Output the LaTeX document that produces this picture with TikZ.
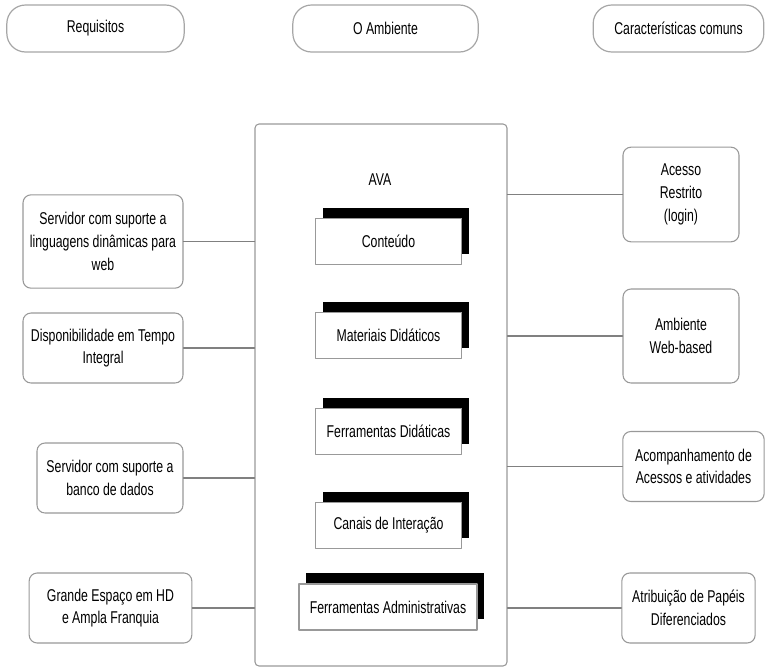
\documentclass[tikz,border=0pt]{standalone}
\usepackage{fontspec}
\setmainfont{Liberation Sans}[FakeStretch=0.72]
\usetikzlibrary{shadows}

\begin{document}
\begin{tikzpicture}[x=0.75pt, y=-0.75pt, line cap=round, line join=round,
  font=\fontsize{12.8}{17}\selectfont,
  pill/.style={draw=gray!70, line width=0.9pt, rounded corners=14pt, fill=white, minimum height=35.25pt},
  req/.style={draw=gray!80, line width=0.8pt, rounded corners=6pt, fill=white, align=center, minimum height=52.5pt},
  mod/.style={draw=gray!80, line width=0.8pt, fill=white, minimum height=35pt, minimum width=110pt,
    drop shadow={shadow xshift=5.5pt, shadow yshift=8pt, fill=black, opacity=1}},
  link/.style={draw=gray, line width=0.9pt}]
\useasboundingbox (0,0) rectangle (765,668);
%========================
% Top: headers
%========================
\node[pill, minimum width=133pt] (reqs) at (95.5,28.5) {Requisitos};
\node[pill, minimum width=139pt] (amb) at (385.5,28.5) {O Ambiente};
\node[pill, minimum width=128pt] (carac) at (678.5,28.5) {Características comuns};

%========================
% Middle: AVA
%========================
\node[draw=gray!80, line width=0.8pt, rounded corners=3pt, minimum width=189pt, minimum height=406.5pt] (ava) at (381,395) {};
\node (avalbl) at (380,180) {AVA};
% modules
\node[mod] (cont) at (388.5,241.5) {Conteúdo};
\node[mod] (mat) at (388.5,335.5) {Materiais Didáticos};
\node[mod] (ferdid) at (388.5,431.5) {Ferramentas Didáticas};
\node[mod] (canais) at (388.5,525.5) {Canais de Interação};
\node[mod, minimum width=133.5pt, minimum height=34.5pt] (feradm) at (388,607) {Ferramentas Administrativas};

%========================
% Left: requisitos
%========================
\node[req, minimum width=120pt, minimum height=70pt] (srvweb) at (103,241.5) {Servidor com suporte a\\linguagens dinâmicas para\\web};
\node[req, minimum width=120pt] (disp) at (103,348) {Disponibilidade em Tempo\\Integral};
\node[req, minimum width=109.5pt] (srvbd) at (110,478) {Servidor com suporte a\\banco de dados};
\node[req, minimum width=122pt] (hd) at (110.5,608) {Grande Espaço em HD\\e Ampla Franquia};
% links
\draw[link] (srvweb.east) -- (srvweb.east -| ava.west);
\draw[link] (disp.east) -- (disp.east -| ava.west);
\draw[link] (srvbd.east) -- (srvbd.east -| ava.west);
\draw[link] (hd.east) -- (hd.east -| ava.west);

%========================
% Right: caracteristicas
%========================
\node[req, minimum width=87pt, minimum height=71pt] (login) at (681,194.5) {Acesso\\Restrito\\(login)};
\node[req, minimum width=87pt, minimum height=70.5pt] (web) at (681,336) {Ambiente\\Web-based};
\node[req, minimum width=106pt] (acomp) at (693.5,466.5) {Acompanhamento de\\Acessos e atividades};
\node[req, minimum width=100pt] (papeis) at (688.5,608) {Atribuição de Papéis\\Diferenciados};
% links
\draw[link] (login.west -| ava.east) -- (login.west);
\draw[link] (web.west -| ava.east) -- (web.west);
\draw[link] (acomp.west -| ava.east) -- (acomp.west);
\draw[link] (papeis.west -| ava.east) -- (papeis.west);
\end{tikzpicture}
\end{document}
